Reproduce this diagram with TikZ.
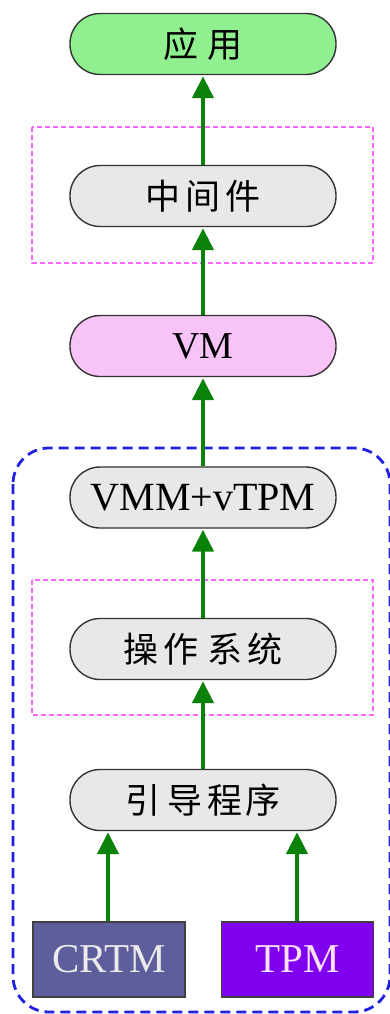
\documentclass[tikz,border=0pt]{standalone}
\usepackage{fontspec}
\setmainfont{Liberation Serif}
\newfontfamily\cjk{Noto Sans CJK SC}
\usetikzlibrary{arrows.meta}
\definecolor{appgreen}{HTML}{90F090}
\definecolor{layergray}{HTML}{E8E8E8}
\definecolor{vmpink}{HTML}{F8C4F8}
\definecolor{crtmblue}{HTML}{5E5E9C}
\definecolor{tpmpurple}{HTML}{8000F0}
\definecolor{flowgreen}{HTML}{0A820A}
\definecolor{groupblue}{HTML}{2020E0}
\definecolor{groupmagenta}{HTML}{FF66FF}
\tikzset{
  pill/.style={draw=black!80, line width=1.4pt, rounded corners=30pt,
    minimum width=266pt, minimum height=61pt, inner sep=0pt, font=\fontsize{39}{42}\selectfont},
  chip/.style={draw=black!75, line width=1.2pt, minimum width=152pt, minimum height=75pt,
    inner sep=0pt, font=\fontsize{41}{44}\selectfont},
  flow/.style={draw=flowgreen, line width=4.5pt,
    -{Triangle[length=22pt,width=21pt]}, shorten >=1pt},
  group/.style={draw=groupmagenta, line width=1.3pt, dash pattern=on 5pt off 3pt},
  outer/.style={draw=groupblue, line width=2.8pt, dash pattern=on 10pt off 6pt, rounded corners=36pt},
}
\newcommand{\zh}[1]{{\cjk\fontsize{35}{38}\selectfont #1}}
\begin{document}
\begin{tikzpicture}[x=1pt,y=-1pt]
\useasboundingbox (0,0) rectangle (390,1014);
\begin{scope}
\clip (0,0) rectangle (390,1014);
% trusted platform boundary
\draw[outer] (13,448) rectangle (390,1012);
\end{scope}
% dashed groups
\draw[group] (32,127) rectangle (373,263);
\draw[group] (32,580) rectangle (373,715);
% layers
\node[pill, fill=appgreen] (app) at (203,44) {\zh{应\hspace{0.25em}用}};
\node[pill, fill=layergray] (mid) at (203,196) {\zh{中\hspace{0.15em}间\hspace{0.15em}件}};
\node[pill, fill=vmpink, font=\fontsize{38}{41}\selectfont] (vm) at (203,346) {VM};
\node[pill, fill=layergray, font=\fontsize{40}{43}\selectfont] (vmm) at (203,497.5) {VMM+vTPM};
\node[pill, fill=layergray] (os) at (203,649) {\zh{操\hspace{0.15em}作\hspace{0.25em}系\hspace{0.15em}统}};
\node[pill, fill=layergray] (boot) at (203,800) {\zh{引\hspace{0.2em}导\hspace{0.15em}程\hspace{0.1em}序}};
\node[chip, fill=crtmblue, text=black!8] (crtm) at (109,959.5) {CRTM};
\node[chip, fill=tpmpurple, text=magenta!12] (tpm) at (297.5,959.5) {TPM};
% chain of trust
\draw[flow] (mid.north) -- (app.south);
\draw[flow] (vm.north) -- (mid.south);
\draw[flow] (vmm.north) -- (vm.south);
\draw[flow] (os.north) -- (vmm.south);
\draw[flow] (boot.north) -- (os.south);
\draw[flow] (crtm.north -| 108,0) -- (boot.south -| 108,0);
\draw[flow] (tpm.north -| 297,0) -- (boot.south -| 297,0);
\end{tikzpicture}
\end{document}
